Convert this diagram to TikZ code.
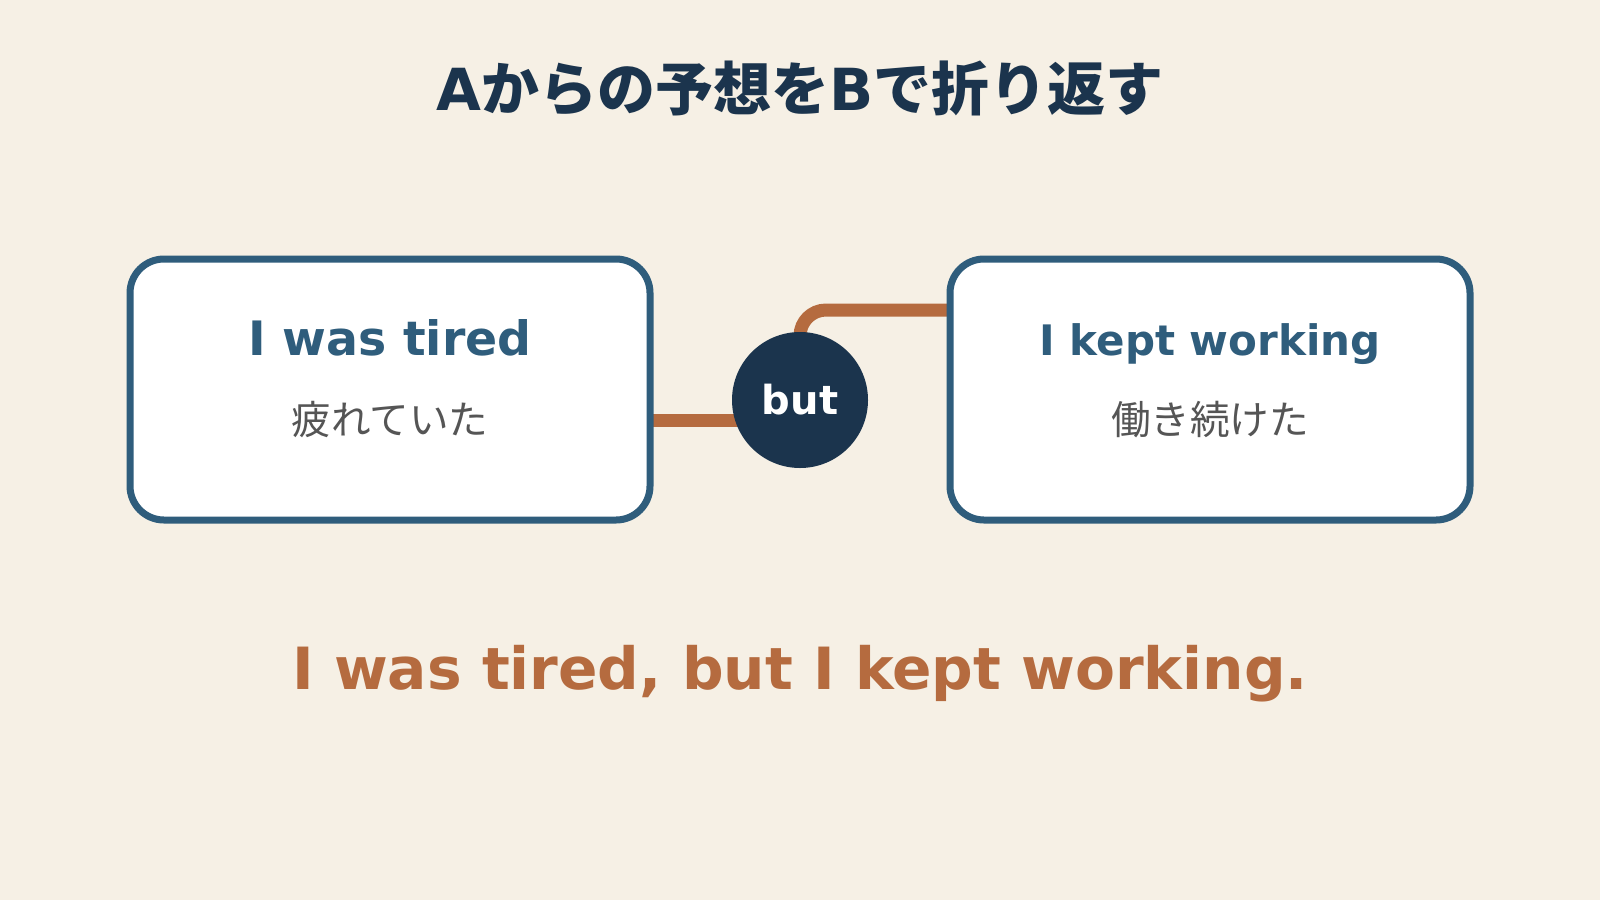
\documentclass[tikz,border=0pt]{standalone}
\usepackage{fontspec}
\setmainfont{DejaVu Sans}
\newfontfamily\cjk{Noto Sans CJK JP}
\usetikzlibrary{calc}
\definecolor{bgc}{HTML}{F6F0E5}
\definecolor{boxc}{HTML}{2F5D7C}
\definecolor{navy}{HTML}{1B344D}
\definecolor{orng}{HTML}{B56B3F}
\definecolor{grayt}{HTML}{555555}
\pgfdeclarelayer{back}
\pgfdeclarelayer{mid}
\pgfsetlayers{back,mid,main}
\tikzset{
  card/.style={draw=boxc, line width=3.5pt, fill=white, rounded corners=17pt,
    minimum width=260pt, minimum height=130.5pt, outer sep=0pt, inner sep=0pt},
  conn/.style={draw=orng, line width=6.5pt, line cap=butt},
  entext/.style={text=boxc, font=\bfseries, inner sep=0pt},
  jptext/.style={text=grayt, font=\cjk\fontsize{19.8}{23}\selectfont, inner sep=0pt},
}
\begin{document}
\begin{tikzpicture}[x=0.5pt,y=-0.5pt]
\begin{pgfonlayer}{back}
\fill[bgc] (0,0) rectangle (1600,900);
\end{pgfonlayer}
\useasboundingbox (0,0) rectangle (1600,900);

\node[text=navy, inner sep=0pt, font=\fontsize{29}{34}\selectfont] (title) at (800,89)
  {\bfseries A{\cjk\bfseries からの予想を}B{\cjk\bfseries で折り返す}};

\node[card] (box1) at (390,389.5) {};
\node[card] (box2) at (1210,389.5) {};

\node[entext, font=\bfseries\fontsize{23.7}{28}\selectfont] (en1) at (390,338) {I was tired};
\node[jptext] (jp1) at (390,420) {疲れていた};
\node[entext, font=\bfseries\fontsize{21}{25}\selectfont] (en2) at (1210,344) {I kept working};
\node[jptext] (jp2) at (1210,420) {働き続けた};

\node[circle, fill=navy, minimum size=68pt, inner sep=0pt, text=white,
  font=\bfseries\fontsize{20}{24}\selectfont] (but) at (800,400) {but};

\coordinate (l1) at (650,420);
\coordinate (r2) at (950,310);
\begin{pgfonlayer}{mid}
\draw[conn] (l1) -- (but.center |- l1);
\draw[conn, rounded corners=13pt] (but.center) |- (r2);
\end{pgfonlayer}

\node[text=orng, inner sep=0pt, font=\bfseries\fontsize{29.1}{34}\selectfont] (sent) at (800,674)
  {I was tired, but I kept working.};
\end{tikzpicture}
\end{document}
